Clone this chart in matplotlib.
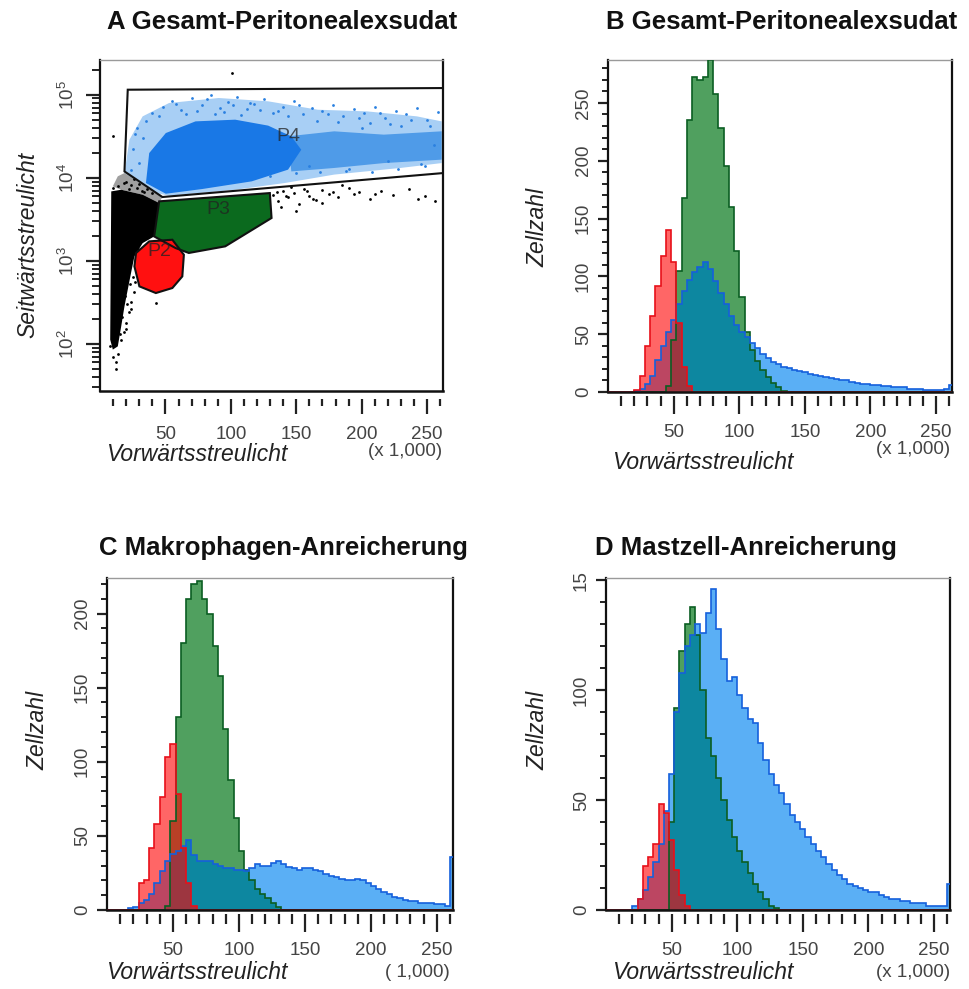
import numpy as np
import matplotlib
matplotlib.use('Agg')
import matplotlib.pyplot as plt
from matplotlib.ticker import FixedLocator, FixedFormatter, LogLocator, LogFormatterMathtext, NullFormatter

plt.rcParams['font.family'] = ['Liberation Sans', 'DejaVu Sans']

# ---------------- Panel A: gates (FSC in 1000s, SSC raw) ----------------
p4_k = [21.2, 262.4, 262.4, 47.7, 18.7]
p4_s = [114800, 120200, 11380, 5850, 11900]
p3_k = [45.2, 129.8, 131.1, 95.7, 67.9, 57.8, 41.4]
p3_s = [5190, 6530, 3270, 1490, 1240, 1420, 1960]
p2_k = [37.6, 55.3, 64.1, 62.9, 55.3, 42.7, 30.1, 26.3, 27.5]
p2_s = [1710, 1790, 1180, 647, 469, 408, 491, 855, 1236]

# population clouds
blue_outer_k = [18.7, 22.5, 32.6, 52.8, 90.7, 128.5, 166.4, 204.3, 242.2, 261.1,
                261.1, 229.5, 179, 141.2, 103.3, 52.8, 37.6, 23.7]
blue_outer_s = [11380, 28700, 54800, 79400, 91200, 83200, 65900, 62900, 54800, 47700,
                15000, 13100, 10900, 8630, 7160, 6060, 6840, 9910]
blue_mid_k = [143.7, 179, 216.9, 261.1, 261.1, 216.9, 179, 146.2]
blue_mid_s = [31500, 36200, 33000, 36200, 16500, 15000, 13100, 11900]
blue_core_k = [35.1, 37.6, 50.3, 73, 103.3, 128.5, 146.2, 153.8, 143.7, 116, 78, 50.3]
blue_core_s = [8630, 19800, 34500, 47700, 50000, 42400, 31500, 21700, 12500, 9040, 7300, 6410]
blue_dot_k = [40, 48, 55, 62, 70, 78, 85, 92, 98, 105, 112, 118, 125, 132, 140, 148, 155,
              162, 170, 178, 186, 194, 202, 210, 218, 226, 234, 242, 250, 258, 28, 25, 30,
              24, 160, 190, 220, 245, 130, 200, 230, 255,
              58, 66, 74, 82, 88, 95, 102, 108, 115, 122, 136, 144, 152, 166, 174, 182,
              198, 206, 214, 222, 238, 252, 45, 35, 33, 27, 150, 168, 188, 208, 228, 248]
blue_dot_s = [60000, 72000, 85000, 66000, 90000, 75000, 98000, 70000, 82000, 93000, 68000,
              78000, 88000, 60000, 72000, 85000, 58000, 70000, 63000, 76000, 55000, 68000,
              60000, 72000, 52000, 64000, 58000, 70000, 50000, 62000, 40000, 22000, 15000,
              12500, 14000, 12800, 16000, 14500, 10500, 40000, 42000, 25000,
              78000, 59000, 64000, 88000, 58000, 62000, 76000, 57000, 80000, 66000, 64000,
              56000, 75000, 48000, 58000, 47000, 52000, 45000, 60000, 44000, 50000, 42000,
              55000, 48000, 30000, 34000, 11500, 11800, 12200, 11600, 12600, 13800]
halo_k = [13.6, 18.7, 47.7, 45.2, 32.6, 16.2, 9.8]
halo_s = [10400, 11380, 5850, 4960, 6240, 7160, 7870]
black_k = [7.8, 8.6, 16.2, 32.6, 45.2, 41.4, 32.6, 26.3, 23.7, 21.2, 18.7, 16.2, 13.6, 9.8, 7.8]
black_s = [112, 6840, 7160, 6240, 4960, 1960, 1630, 1130, 710, 448, 282, 162, 93, 85, 112]
black_dot_k = [132, 136, 140, 144, 148, 152, 156, 160, 165, 170, 175, 182, 190, 198, 206,
               215, 224, 236, 248, 256, 138, 150, 146, 170, 128, 185, 210, 243,
               9.8, 100.8, 20, 24, 28, 32, 36, 40, 18, 26, 22, 30, 34, 14, 10, 16,
               10, 12, 14, 8, 16, 18, 20, 22, 24, 26, 27, 30, 33, 12, 43,
               19, 21, 23, 25, 28, 17, 15, 20, 24, 29, 31, 135, 142, 158, 163, 178, 194]
black_dot_s = [6200, 5200, 7000, 5800, 6600, 4800, 7400, 6000, 5400, 7200, 6400, 5800, 7600,
               6800, 5600, 7000, 6200, 7400, 6000, 5200, 4400, 4000, 7800, 5000, 3600, 8200,
               6400, 5600, 31600, 182000, 9000, 8200, 7600, 7000, 7400, 6600, 8600, 9600,
               7400, 8400, 6800, 8000, 7600, 7000, 70, 60, 75, 95, 110, 140, 180, 240, 320,
               420, 560, 700, 900, 50, 310,
               380, 300, 520, 640, 1000, 210, 130, 150, 260, 1400, 1200, 6800, 6000, 6900,
               5600, 6700, 6300]
gate_labels = ['P4', 'P3', 'P2']
gate_label_k = [143.7, 90.7, 45.2]
gate_label_s = [31500, 4110, 1295]

# ---------------- Histograms: counts per 4k FSC bin (0-264k) ----------------
edges = np.arange(0, 268, 4)

b_red = [0, 0, 0, 0, 0, 2, 14, 40, 66, 92, 118, 140, 112, 60, 22, 5] + [0] * 50
b_green = [0] * 11 + [5, 45, 105, 168, 235, 272, 270, 272, 287, 258, 228, 195, 160, 122,
                      82, 52, 36, 27, 19, 13, 8, 4, 1] + [0] * 32
b_blue = [0] * 5 + [1, 3, 7, 14, 28, 40, 52, 62, 76, 87, 97, 104, 108, 112, 106, 96, 86,
                    76, 66, 58, 52, 48, 42, 38, 33, 29, 26, 24, 22, 21, 19, 18, 17, 16, 15,
                    14, 13, 12, 11, 10, 10, 9, 8, 7, 7, 6, 6, 5, 5, 4, 4, 4, 3, 3, 3, 2, 2,
                    2, 2, 3, 6]

c_red = [0] * 6 + [18, 20, 42, 58, 76, 103, 112, 78, 42, 18, 3] + [0] * 49
c_green = [0] * 11 + [3, 60, 130, 180, 210, 220, 222, 210, 200, 178, 158, 122, 88, 62, 40,
                      27, 20, 14, 11, 8, 5, 2] + [0] * 33
c_blue = [0] * 4 + [1, 2, 5, 7, 11, 18, 26, 33, 38, 40, 43, 47, 37, 33, 33, 33, 31, 30, 28,
                    28, 27, 27, 26, 28, 31, 30, 30, 32, 33, 31, 29, 28, 27, 28, 28, 27, 26,
                    24, 23, 22, 21, 20, 20, 21, 20, 18, 16, 14, 12, 11, 9, 8, 7, 6, 6, 5,
                    5, 5, 4, 4, 3, 36]

d_red = [0] * 6 + [5, 20, 24, 30, 48, 44, 32, 18, 7, 2] + [0] * 50
d_green = [0] * 12 + [40, 92, 118, 130, 138, 125, 100, 78, 70, 60, 50, 41, 33, 27, 22, 17,
                      12, 8, 5, 2, 1] + [0] * 33
d_blue = [0] * 5 + [2, 5, 9, 15, 22, 30, 45, 62, 90, 108, 120, 125, 130, 126, 135, 146, 128,
                    114, 104, 106, 98, 92, 87, 85, 76, 68, 62, 57, 53, 48, 43, 40, 37, 33,
                    30, 27, 24, 21, 18, 16, 14, 12, 11, 10, 9, 8, 8, 7, 6, 5, 5, 4, 4, 3, 3,
                    3, 2, 2, 2, 2, 12]

RED_EDGE, GREEN_EDGE, BLUE_EDGE = '#e8101a', '#0b5e22', '#1560dc'
GREEN_FILL, BLUE_FILL, TEAL = '#50a05f', '#5aaff5', '#0d87a0'
TICK_COL = '#444444'

fig = plt.figure(figsize=(9.69, 9.89), dpi=100)


def frame(ax, gap, xmaj, xmin, xpad):
    for s in ('left', 'right'):
        ax.spines[s].set_linewidth(1.6)
        ax.spines[s].set_color('#111111')
    ax.spines['top'].set_linewidth(1.0)
    ax.spines['top'].set_color('#9a9a9a')
    ax.spines['bottom'].set_position(('outward', gap))
    ax.spines['bottom'].set_visible(False)
    ax.plot([0, 1], [0, 0], transform=ax.transAxes, color='#111111', lw=1.8,
            clip_on=False, zorder=6)
    ax.set_xlim(0, 262.144)
    ax.xaxis.set_major_locator(FixedLocator([50, 100, 150, 200, 250]))
    ax.xaxis.set_minor_locator(FixedLocator([v for v in range(10, 261, 10) if v % 50]))
    ax.tick_params(axis='x', which='major', length=xmaj, width=1.6, pad=xpad,
                   labelsize=13.5, labelcolor=TICK_COL, color='#222222')
    ax.tick_params(axis='x', which='minor', length=xmin, width=1.6, color='#222222')
    ax.tick_params(axis='y', which='major', length=7.5, width=1.6, pad=4,
                   labelsize=13.5, labelcolor=TICK_COL, labelrotation=90, color='#222222')
    ax.tick_params(axis='y', which='minor', length=4.5, width=1.4, color='#222222')
    for t in ax.get_yticklabels():
        t.set_va('center')


# ---------------- A ----------------
axA = fig.add_axes([0.1032, 0.6047, 0.354, 0.3347])
axA.set_yscale('log')
axA.set_ylim(27, 262144)
axA.fill(blue_outer_k, blue_outer_s, color='#a8cff5', lw=0, zorder=1)
axA.fill(blue_mid_k, blue_mid_s, color='#4f9be8', lw=0, zorder=2)
axA.fill(blue_core_k, blue_core_s, color='#1978e6', lw=0, zorder=3)
axA.scatter(blue_dot_k, blue_dot_s, s=4, color='#2a80e0', lw=0, zorder=3)
axA.fill(halo_k, halo_s, color='#a0a0a0', lw=0, zorder=3)
axA.fill(black_k, black_s, color='black', lw=0, zorder=4)
axA.scatter(black_dot_k, black_dot_s, s=4, color='black', lw=0, zorder=4)
axA.fill(p3_k, p3_s, color='#0b6a1e', lw=0, zorder=5)
axA.fill(p2_k, p2_s, color='#ff1010', lw=0, zorder=6)
for gk, gs in ((p4_k, p4_s), (p3_k, p3_s), (p2_k, p2_s)):
    axA.fill(gk, gs, fill=False, ec='#111111', lw=1.5, zorder=7)
for lab, lk, ls in zip(gate_labels, gate_label_k, gate_label_s):
    axA.text(lk, ls, lab, fontsize=14, color='#222222', alpha=0.75,
             ha='center', va='center', zorder=8)
frame(axA, 6, 11, 5, 8)
axA.yaxis.set_major_locator(LogLocator(base=10, numticks=10))
axA.yaxis.set_major_formatter(LogFormatterMathtext())
axA.yaxis.set_minor_locator(LogLocator(base=10, subs=np.arange(2, 10), numticks=20))
axA.yaxis.set_minor_formatter(NullFormatter())
axA.tick_params(axis='y', which='major', length=10, pad=6)
axA.tick_params(axis='y', which='minor', length=6)
for t in axA.get_yticklabels():
    t.set_va('center')


# ---------------- histograms ----------------
def hist_panel(rect, red, green, blue, ytop, yticks, ylabels):
    ax = fig.add_axes(rect)
    r, g, b = np.array(red), np.array(green), np.array(blue)
    ax.stairs(b, edges, fill=True, color=BLUE_FILL, lw=0, zorder=1)
    ax.stairs(g, edges, fill=True, color=GREEN_FILL, lw=0, zorder=2)
    ax.stairs(np.minimum(g, b), edges, fill=True, color=TEAL, lw=0, zorder=3)
    ax.stairs(r, edges, fill=True, color='#ff0000', alpha=0.6, lw=0, zorder=4)
    ax.stairs(g, edges, color=GREEN_EDGE, lw=1.2, zorder=5)
    ax.stairs(b, edges, color=BLUE_EDGE, lw=1.2, zorder=5)
    ax.stairs(r, edges, color=RED_EDGE, lw=1.2, zorder=5)
    ax.set_ylim(0, ytop)
    ax.yaxis.set_major_locator(FixedLocator(yticks))
    ax.yaxis.set_major_formatter(FixedFormatter(ylabels))
    ax.yaxis.set_minor_locator(FixedLocator([v for v in range(10, int(ytop) + 1, 10) if v % 50]))
    frame(ax, 3, 13, 7, 7)
    return ax


hist_panel([0.6275, 0.6036, 0.355, 0.3357], b_red, b_green, b_blue, 287,
           [0, 50, 100, 150, 200, 250], ['0', '50', '100', '150', '200', '250'])
hist_panel([0.1104, 0.0799, 0.357, 0.3357], c_red, c_green, c_blue, 224,
           [0, 50, 100, 150, 200], ['0', '50', '100', '150', '200'])
hist_panel([0.6254, 0.0799, 0.355, 0.3357], d_red, d_green, d_blue, 151,
           [0, 50, 100, 150], ['0', '50', '100', '15'])

# ---------------- texts ----------------
title_kw = dict(fontsize=18.5, fontweight='bold', ha='center', va='center', color='#111111')
fig.text(0.291, 0.9778, 'A Gesamt-Peritonealexsudat', **title_kw)
fig.text(0.807, 0.9778, 'B Gesamt-Peritonealexsudat', **title_kw)
fig.text(0.293, 0.4459, 'C Makrophagen-Anreicherung', **title_kw)
fig.text(0.770, 0.4459, 'D Mastzell-Anreicherung', **title_kw)

lab_kw = dict(fontsize=16.5, style='italic', color='#222222', va='center')
fig.text(0.0289, 0.7523, 'Seitwärtsstreulicht', rotation=90, ha='center', **lab_kw)
fig.text(0.5552, 0.7705, 'Zellzahl', rotation=90, ha='center', **lab_kw)
fig.text(0.0392, 0.2619, 'Zellzahl', rotation=90, ha='center', **lab_kw)
fig.text(0.5552, 0.2619, 'Zellzahl', rotation=90, ha='center', **lab_kw)
fig.text(0.2033, 0.540, 'Vorwärtsstreulicht', ha='center', **lab_kw)
fig.text(0.7255, 0.5319, 'Vorwärtsstreulicht', ha='center', **lab_kw)
fig.text(0.2033, 0.0162, 'Vorwärtsstreulicht', ha='center', **lab_kw)
fig.text(0.7255, 0.0162, 'Vorwärtsstreulicht', ha='center', **lab_kw)

unit_kw = dict(fontsize=13.5, color=TICK_COL, ha='right', va='center')
fig.text(0.4561, 0.543, '(x 1,000)', **unit_kw)
fig.text(0.9804, 0.5450, '(x 1,000)', **unit_kw)
fig.text(0.4644, 0.0162, '( 1,000)', **unit_kw)
fig.text(0.9804, 0.0162, '(x 1,000)', **unit_kw)

fig.savefig('out.png', dpi=100)
